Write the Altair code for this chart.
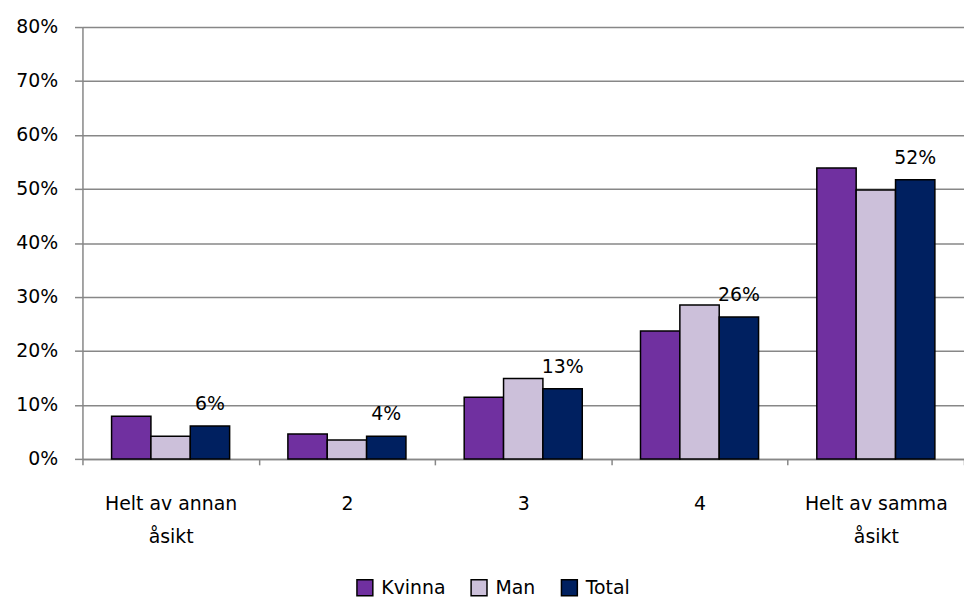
import altair as alt
import pandas as pd

categories = ["Helt av annan åsikt", "2", "3", "4", "Helt av samma åsikt"]
series = ["Kvinna", "Man", "Total"]
kvinna = [0.079, 0.046, 0.114, 0.237, 0.539]
man = [0.042, 0.035, 0.149, 0.285, 0.498]
total = [0.061, 0.042, 0.130, 0.263, 0.517]
colors = ["#7030A0", "#CCC0DA", "#002060"]
y_ticks = [0, 0.1, 0.2, 0.3, 0.4, 0.5, 0.6, 0.7, 0.8]

rows = []
for s, vals in zip(series, [kvinna, man, total]):
    for c, v in zip(categories, vals):
        rows.append({"category": c, "series": s, "value": v})
df = pd.DataFrame(rows)

FONT = "DejaVu Sans"
GREY = "#878787"

x = alt.X(
    "category:N",
    sort=categories,
    title=None,
    scale=alt.Scale(paddingInner=0, paddingOuter=0),
    axis=alt.Axis(
        labelAngle=0,
        tickBand="extent",
        grid=False,
        tickSize=6,
        labelPadding=30,
        labelLineHeight=33,
        labelExpr="indexof(datum.label, ' åsikt') > 0 ? [replace(datum.label, ' åsikt', ''), 'åsikt'] : datum.label",
    ),
)
xo = alt.XOffset("series:N", sort=series, scale=alt.Scale(paddingInner=0, paddingOuter=0.74))
y = alt.Y(
    "value:Q",
    scale=alt.Scale(domain=[0, 0.8], nice=False),
    axis=alt.Axis(
        format=".0%",
        values=y_ticks,
        title=None,
        tickSize=8,
        labelPadding=17,
    ),
)

bars = alt.Chart(df).mark_bar(stroke="black", strokeWidth=1.5).encode(
    x=x,
    xOffset=xo,
    y=y,
    color=alt.Color(
        "series:N",
        sort=series,
        scale=alt.Scale(domain=series, range=colors),
        legend=alt.Legend(
            orient="none",
            legendX=275,
            legendY=555,
            direction="horizontal",
            title=None,
            symbolType="square",
            symbolSize=256,
            symbolStrokeColor="black",
            symbolStrokeWidth=1.5,
            labelFontSize=19,
            labelFont=FONT,
            labelColor="black",
            columnPadding=22,
            labelOffset=7,
            padding=0,
        ),
    ),
)

labels = alt.Chart(df).transform_filter(alt.datum.series == "Total").mark_text(
    dy=-16, baseline="alphabetic", fontSize=19, font=FONT, color="black"
).encode(
    x=x,
    xOffset=xo,
    y=y,
    text=alt.Text("value:Q", format=".0%"),
)

chart = (
    alt.layer(bars, labels)
    .properties(
        width=888,
        height=435,
        padding={"left": 75, "top": 17, "right": 0, "bottom": 145},
        autosize=alt.AutoSizeParams(type="none"),
    )
    .configure_view(stroke=None)
    .configure_axis(
        labelFont=FONT,
        labelFontSize=19,
        labelColor="black",
        domainColor=GREY,
        tickColor=GREY,
        gridColor=GREY,
        domainWidth=1.5,
        tickWidth=1.5,
        gridWidth=1.5,
    )
)

chart.save("out.html", embed_options={"renderer": "svg", "actions": False})
